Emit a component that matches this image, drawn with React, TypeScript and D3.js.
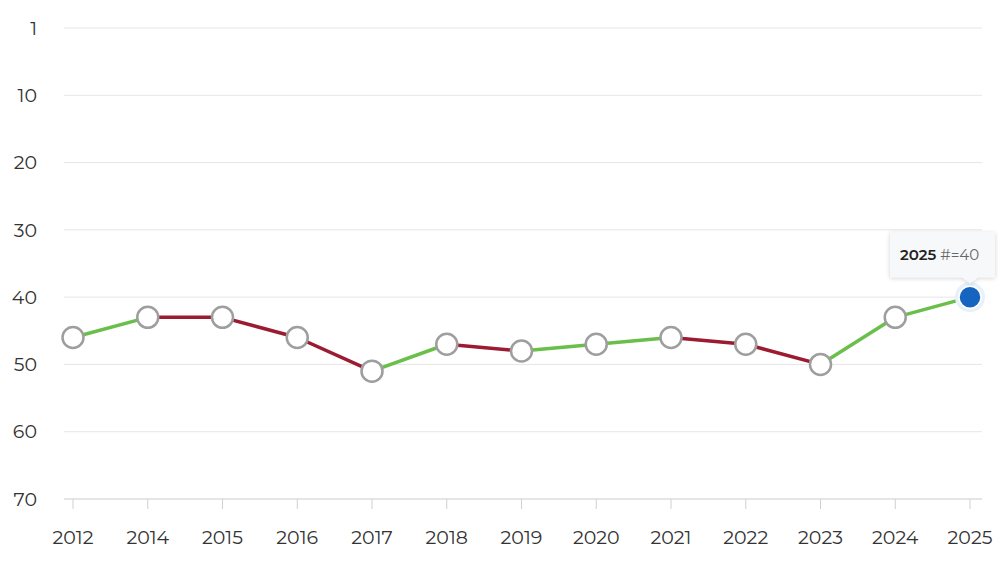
import React from "react";
import * as d3 from "d3";

const years = ["2012","2014","2015","2016","2017","2018","2019","2020","2021","2022","2023","2024","2025"];
const ranks = [46, 43, 43, 46, 51, 47, 48, 47, 46, 47, 50, 43, 40];
const yTickValues = [0, 10, 20, 30, 40, 50, 60, 70];
const yTickLabels = ["1", "10", "20", "30", "40", "50", "60", "70"];

const W = 1005, H = 562;
const FONT = "Montserrat, 'DejaVu Sans', sans-serif";

export default function App() {
  const x = d3.scalePoint<string>().domain(years).range([73, 970]);
  const y = d3.scaleLinear().domain([0, 70]).range([28, 499]);
  const gridX0 = 64, gridX1 = 982;
  const green = "#6abf4b", red = "#9b1b30";

  const segs = ranks.slice(1).map((v, i) => {
    const a = ranks[i];
    return {
      x1: x(years[i])!, y1: y(a), x2: x(years[i + 1])!, y2: y(v),
      color: v < a ? green : red,
    };
  });
  const lastI = years.length - 1;
  const lx = x(years[lastI])!, ly = y(ranks[lastI]);

  return (
    <svg width={W} height={H} style={{ position: "absolute", left: 0, top: 0, background: "#fff" }}>
      <defs>
        <filter id="sh" x="-20%" y="-20%" width="140%" height="160%">
          <feDropShadow dx="0" dy="1" stdDeviation="2" floodColor="#000" floodOpacity="0.18" />
        </filter>
      </defs>
      {yTickValues.map((t, i) => (
        <g key={t}>
          {t !== 70 && (
            <line x1={gridX0} x2={gridX1} y1={y(t)} y2={y(t)} stroke="#e6e6e6" strokeWidth={1} />
          )}
          <text x={37} y={y(t)} dy="0.35em" textAnchor="end" fontFamily={FONT} fontSize={19} fill="#333">
            {yTickLabels[i]}
          </text>
        </g>
      ))}
      <line x1={gridX0} x2={gridX1} y1={y(70)} y2={y(70)} stroke="#cccccc" strokeWidth={1.2} />
      {years.map((yr) => (
        <g key={yr}>
          <line x1={x(yr)} x2={x(yr)} y1={y(70)} y2={y(70) + 10} stroke="#d0d0d0" strokeWidth={1} />
          <text x={x(yr)} y={544} textAnchor="middle" fontFamily={FONT} fontSize={19} fill="#333">{yr}</text>
        </g>
      ))}
      {segs.map((s, i) => (
        <line key={i} x1={s.x1} y1={s.y1} x2={s.x2} y2={s.y2} stroke={s.color} strokeWidth={3.5} strokeLinecap="round" />
      ))}
      {ranks.slice(0, lastI).map((v, i) => (
        <circle key={i} cx={x(years[i])} cy={y(v)} r={10.5} fill="#fff" stroke="#9e9e9e" strokeWidth={2.5} />
      ))}
      <circle cx={lx} cy={ly} r={15} fill="#e8f1fa" />
      <circle cx={lx} cy={ly} r={11} fill="#1565c0" stroke="#fff" strokeWidth={1.5} />
      <g filter="url(#sh)">
        <path
          d={`M ${lx - 80} ${ly - 65} H ${lx + 25} V ${ly - 20} H ${lx + 8} L ${lx} ${ly - 14} L ${lx - 8} ${ly - 20} H ${lx - 80} Z`}
          fill="#f6f8fa"
        />
      </g>
      <text x={lx - 70} y={ly - 37} fontFamily={FONT} fontSize={15}>
        <tspan fontWeight={600} fill="#222">{years[lastI]}</tspan>
        <tspan fill="#666"> #={ranks[lastI]}</tspan>
      </text>
    </svg>
  );
}
